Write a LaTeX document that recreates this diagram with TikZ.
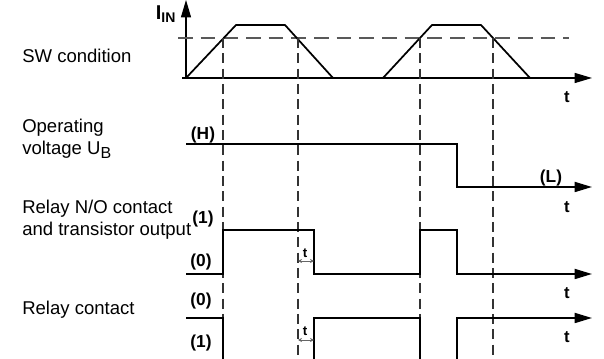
\documentclass[tikz,border=0pt]{standalone}
\usepackage{fontspec}
\setmainfont{Liberation Sans}
\usetikzlibrary{arrows.meta}

\begin{document}
\begin{tikzpicture}[
  x=0.75pt, y=-0.75pt,
  >={Triangle[length=13pt,width=7.5pt]},
  axis/.style={line width=0.9pt},
  sig/.style={line width=1.3pt, line join=miter},
  thr/.style={line width=0.9pt, black!65, dash pattern=on 11pt off 6pt},
  guide/.style={line width=0.8pt, black!80, dash pattern=on 7.5pt off 4pt},
  lbl/.style={font=\fontsize{13.9}{16.5}\selectfont, anchor=west, align=left, inner sep=0pt},
  lvl/.style={font=\fontsize{13}{15}\selectfont\bfseries, inner sep=0pt},
  tl/.style={font=\fontsize{12.5}{14}\selectfont\bfseries, inner sep=0pt},
  dly/.style={{Stealth[length=3pt,width=3pt]}-{Stealth[length=3pt,width=3pt]},
              line width=0.5pt, black!60},
]
\useasboundingbox (0,0) rectangle (604,359);

% ---- left labels ----
\node[lbl] (sw)   at (22,56)  {SW condition};
\node[lbl] (ub)   at (22,139) {Operating\\voltage U\textsubscript{\fontsize{12}{12}\selectfont B}};
\node[lbl] (no)   at (22,220) {Relay N/O contact\\and transistor output};
\node[lbl] (rel)  at (22,310) {Relay contact};

% ---- SW condition: current I_IN ----
\draw[axis,->] (186,78) -- (186,0);
\draw[axis,->] (182,78) -- (592,78);
\node[font=\fontsize{15}{17}\selectfont\bfseries, inner sep=0pt] (iin) at (166,14)
  {I\textsubscript{IN}};
\node[tl] (t1) at (567,97) {t};
\draw[thr] (178,38) -- (569,38);
\draw[sig] (186,78) -- (236,25) -- (285,25) -- (333,78);
\draw[sig] (383,78) -- (432,25) -- (481,25) -- (530,78);

% ---- switching thresholds ----
\foreach \x in {223,298,420,493}
  \draw[guide] (\x,38) -- (\x,356);

% ---- operating voltage ----
\node[lvl] (H) at (203,135) {(H)};
\node[lvl] (L) at (551,178) {(L)};
\node[tl]  (t2) at (567,207) {t};
\draw[sig,->] (186,144) -- (457,144) -- (457,187) -- (592,187);

% ---- N/O contact and transistor output ----
\node[lvl] (n1) at (203,219) {(1)};
\node[lvl] (n0) at (201,262) {(0)};
\node[tl]  (t3) at (567,293) {t};
\draw[sig,->] (186,274) -- (223,274) -- (223,230) -- (314,230) -- (314,274)
  -- (420,274) -- (420,230) -- (457,230) -- (457,274) -- (592,274);
\draw[dly] (298,261) -- (314,261);
\node[font=\fontsize{10}{11}\selectfont\bfseries, inner sep=0pt] (d1) at (305,253) {t};

% ---- relay contact ----
\node[lvl] (r0) at (201,301) {(0)};
\node[lvl] (r1) at (201,343) {(1)};
\node[tl]  (t4) at (567,337) {t};
\draw[sig] (186,318) -- (223,318) -- (223,359);
\draw[sig] (314,359) -- (314,318) -- (420,318) -- (420,359);
\draw[sig,->] (457,359) -- (457,318) -- (592,318);
\draw[dly] (298,340) -- (314,340);
\node[font=\fontsize{10}{11}\selectfont\bfseries, inner sep=0pt] (d2) at (305,331) {t};

\end{tikzpicture}
\end{document}
